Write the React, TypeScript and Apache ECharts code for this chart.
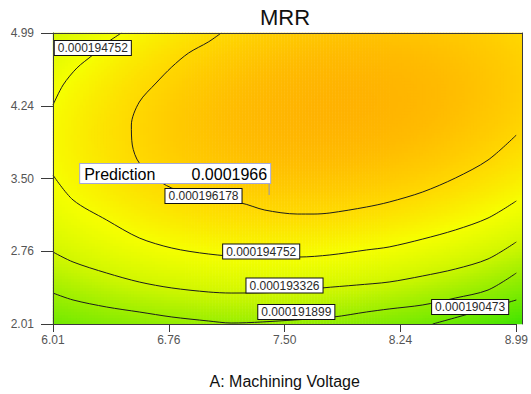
import React, { useEffect, useRef } from "react";
import * as echarts from "echarts";

const FONT = '"Liberation Sans", Arial, Helvetica, sans-serif';

// Axis ranges and tick marks (actual factor units)
const X_RANGE = [6.01, 8.99];
const Y_RANGE = [2.01, 4.99];
const X_TICKS = [6.01, 6.755, 7.5, 8.245, 8.99];
const X_TICK_LABELS = ["6.01", "6.76", "7.50", "8.24", "8.99"];
const Y_TICKS = [2.01, 2.755, 3.5, 4.245, 4.99];
const Y_TICK_LABELS = ["2.01", "2.76", "3.50", "4.24", "4.99"];

// Fitted quadratic response for MRR (x1e-6) in coded factors a, b:
// [b0, a, b, a^2, b^2, ab]
const MRR_MODEL = [196.86, 0.32, 2.48, -1.82, -2.7, 1.05];
const FACTOR_CENTER = [7.5, 3.5];
const FACTOR_HALF_RANGE = 1.49;

// Contour levels and the traced contour paths [A, B]
const LEVEL_190473 = "0.000190473";
const LEVEL_191899 = "0.000191899";
const LEVEL_193326 = "0.000193326";
const LEVEL_194752 = "0.000194752";
const LEVEL_196178 = "0.000196178";

const CONTOUR_196178 = [
  [7.092, 4.99], [7.009, 4.898], [6.882, 4.785], [6.774, 4.642], [6.673, 4.478],
  [6.565, 4.283], [6.514, 4.048], [6.52, 3.843], [6.565, 3.659], [6.712, 3.454],
  [6.838, 3.362], [7.009, 3.28], [7.219, 3.249], [7.372, 3.177], [7.581, 3.136],
  [7.689, 3.136], [7.791, 3.147], [8.026, 3.208], [8.172, 3.259], [8.388, 3.362],
  [8.598, 3.505], [8.808, 3.689], [8.99, 3.945],
];
const CONTOUR_194752_TOP = [
  [6.01, 4.253], [6.075, 4.458], [6.164, 4.632], [6.266, 4.765], [6.355, 4.888], [6.45, 4.99],
];
const CONTOUR_194752 = [
  [6.01, 3.535], [6.139, 3.28], [6.355, 3.075], [6.565, 2.891], [6.774, 2.788],
  [7.009, 2.727], [7.264, 2.696], [7.594, 2.696], [7.791, 2.717], [8.026, 2.768],
  [8.172, 2.799], [8.388, 2.88], [8.598, 2.973], [8.808, 3.095], [8.99, 3.27],
];
const CONTOUR_193326 = [
  [6.01, 2.747], [6.139, 2.645], [6.355, 2.532], [6.565, 2.44], [6.774, 2.379],
  [7.009, 2.338], [7.156, 2.327], [7.499, 2.338], [7.74, 2.379], [7.963, 2.409],
  [8.172, 2.44], [8.388, 2.502], [8.598, 2.573], [8.808, 2.676], [8.99, 2.85],
];
const CONTOUR_191899 = [
  [6.01, 2.327], [6.139, 2.256], [6.355, 2.184], [6.565, 2.133], [6.774, 2.082],
  [7.009, 2.041], [7.156, 2.02], [7.562, 2.051], [7.816, 2.082], [8.026, 2.133],
  [8.172, 2.164], [8.388, 2.205], [8.598, 2.276], [8.808, 2.358], [8.99, 2.532],
];
const CONTOUR_190473 = [
  [8.452, 2.01], [8.706, 2.123], [8.99, 2.256],
];

// Where each contour value is written on its line
const CONTOUR_LABELS = [
  { level: LEVEL_194752, at: [6.266, 4.837] },
  { level: LEVEL_196178, at: [6.978, 3.321] },
  { level: LEVEL_194752, at: [7.349, 2.752] },
  { level: LEVEL_193326, at: [7.499, 2.404] },
  { level: LEVEL_191899, at: [7.575, 2.133] },
  { level: LEVEL_190473, at: [8.693, 2.184] },
];

// Point prediction flag
const PREDICTION_POINT = [7.4, 3.33];
const PREDICTION_LABEL_ANCHOR = [7.41, 3.551];
const PREDICTION_VALUE = "0.0001966";

// Colour ramp for the response surface (x1e-6 -> colour)
const COLOR_STOPS: [number, string][] = [
  [189.0, "#3ce400"],
  [191.9, "#9cee00"],
  [193.33, "#d2f700"],
  [194.75, "#f6ff00"],
  [196.18, "#ffd800"],
  [197.6, "#ffb000"],
];

const NX = 156;
const NY = 97;

function mrrAt(x: number, y: number): number {
  const a = (x - FACTOR_CENTER[0]) / FACTOR_HALF_RANGE;
  const b = (y - FACTOR_CENTER[1]) / FACTOR_HALF_RANGE;
  const [b0, b1, b2, b11, b22, b12] = MRR_MODEL;
  return b0 + b1 * a + b2 * b + b11 * a * a + b22 * b * b + b12 * a * b;
}

function hexToRgb(h: string): number[] {
  return [1, 3, 5].map((k) => parseInt(h.slice(k, k + 2), 16));
}

// Even-spaced colour list for a continuous visualMap from uneven stops
function rampColors(n: number): string[] {
  const lo = COLOR_STOPS[0][0];
  const hi = COLOR_STOPS[COLOR_STOPS.length - 1][0];
  const out: string[] = [];
  for (let k = 0; k < n; k++) {
    const v = lo + ((hi - lo) * k) / (n - 1);
    let s = 0;
    while (s < COLOR_STOPS.length - 2 && v > COLOR_STOPS[s + 1][0]) s++;
    const [v0, c0] = COLOR_STOPS[s];
    const [v1, c1] = COLOR_STOPS[s + 1];
    const t = Math.min(1, Math.max(0, (v - v0) / (v1 - v0)));
    const a = hexToRgb(c0);
    const b = hexToRgb(c1);
    const rgb = a.map((ch, i) => Math.round(ch + (b[i] - ch) * t));
    out.push(`rgb(${rgb[0]},${rgb[1]},${rgb[2]})`);
  }
  return out;
}

function tickLabel(ticks: number[], labels: string[]) {
  return (v: number) => {
    const i = ticks.findIndex((t) => Math.abs(t - v) < 1e-6);
    return i >= 0 ? labels[i] : "";
  };
}

export default function App() {
  const ref = useRef<HTMLDivElement>(null);

  useEffect(() => {
    if (!ref.current) return;
    const chart = echarts.init(ref.current, undefined, { renderer: "svg" });

    const xCats: string[] = [];
    const yCats: string[] = [];
    for (let i = 0; i < NX; i++) xCats.push(String(i));
    for (let j = 0; j < NY; j++) yCats.push(String(j));
    const surface: number[][] = [];
    for (let i = 0; i < NX; i++) {
      const x = X_RANGE[0] + ((i + 0.5) * (X_RANGE[1] - X_RANGE[0])) / NX;
      for (let j = 0; j < NY; j++) {
        const y = Y_RANGE[0] + ((j + 0.5) * (Y_RANGE[1] - Y_RANGE[0])) / NY;
        surface.push([i, j, mrrAt(x, y)]);
      }
    }

    const axisColor = "#3a3a3a";
    const contour = (data: number[][]) => ({
      type: "line",
      xAxisIndex: 1,
      yAxisIndex: 1,
      data,
      smooth: 0.3,
      symbol: "none",
      silent: true,
      lineStyle: { color: "#1c1c1c", width: 1 },
      z: 3,
    });

    chart.setOption({
      animation: false,
      backgroundColor: "#ffffff",
      title: {
        text: "MRR",
        left: 285,
        top: 6,
        padding: 0,
        textAlign: "center",
        textStyle: { fontSize: 22, fontWeight: "normal", color: "#111", fontFamily: FONT },
      },
      grid: [
        { left: 53, top: 33, width: 469, height: 291 },
        { left: 53, top: 33, width: 469, height: 291 },
      ],
      visualMap: {
        show: false,
        seriesIndex: 0,
        dimension: 2,
        min: COLOR_STOPS[0][0],
        max: COLOR_STOPS[COLOR_STOPS.length - 1][0],
        inRange: { color: rampColors(44) },
      },
      xAxis: [
        {
          gridIndex: 0,
          type: "category",
          data: xCats,
          position: "top",
          axisLine: { show: true, lineStyle: { color: axisColor } },
          axisTick: { show: false },
          axisLabel: { show: false },
          splitLine: { show: false },
          z: 10,
        },
        {
          gridIndex: 1,
          type: "value",
          min: X_RANGE[0],
          max: X_RANGE[1],
          position: "bottom",
          axisLine: { show: true, lineStyle: { color: axisColor } },
          axisTick: { show: true, customValues: X_TICKS, length: 8, lineStyle: { color: axisColor } },
          axisLabel: {
            customValues: X_TICKS,
            formatter: tickLabel(X_TICKS, X_TICK_LABELS),
            margin: 10,
            color: "#555",
            fontSize: 12,
            fontFamily: FONT,
          },
          splitLine: { show: false },
          name: "A: Machining Voltage",
          nameLocation: "middle",
          nameGap: 49,
          nameTextStyle: { fontSize: 16, color: "#111", fontFamily: FONT },
          z: 10,
        },
      ],
      yAxis: [
        {
          gridIndex: 0,
          type: "category",
          data: yCats,
          position: "right",
          axisLine: { show: true, lineStyle: { color: axisColor } },
          axisTick: { show: false },
          axisLabel: { show: false },
          splitLine: { show: false },
          z: 10,
        },
        {
          gridIndex: 1,
          type: "value",
          min: Y_RANGE[0],
          max: Y_RANGE[1],
          position: "left",
          axisLine: { show: true, lineStyle: { color: axisColor } },
          axisTick: { show: true, customValues: Y_TICKS, length: 12, lineStyle: { color: axisColor } },
          axisLabel: {
            customValues: Y_TICKS,
            formatter: tickLabel(Y_TICKS, Y_TICK_LABELS),
            margin: 19,
            color: "#555",
            fontSize: 12,
            fontFamily: FONT,
          },
          splitLine: { show: false },
          z: 10,
        },
      ],
      series: [
        {
          type: "heatmap",
          xAxisIndex: 0,
          yAxisIndex: 0,
          data: surface,
          progressive: 0,
          silent: true,
          emphasis: { disabled: true },
          z: 1,
        },
        contour(CONTOUR_196178),
        contour(CONTOUR_194752_TOP),
        contour(CONTOUR_194752),
        contour(CONTOUR_193326),
        contour(CONTOUR_191899),
        contour(CONTOUR_190473),
        {
          type: "scatter",
          xAxisIndex: 1,
          yAxisIndex: 1,
          silent: true,
          symbolSize: 1,
          itemStyle: { color: "rgba(0,0,0,0)", opacity: 1 },
          data: CONTOUR_LABELS.map((c) => ({ value: c.at, name: c.level })),
          label: {
            show: true,
            position: "inside",
            formatter: "{b}",
            fontSize: 12,
            lineHeight: 13,
            color: "#2a2a2a",
            fontFamily: FONT,
            backgroundColor: "#ffffff",
            borderColor: "#111",
            borderWidth: 1,
            padding: [1, 3, 0, 3],
          },
          z: 5,
        },
        {
          type: "scatter",
          xAxisIndex: 1,
          yAxisIndex: 1,
          silent: true,
          symbol: "rect",
          symbolSize: [1, 12],
          symbolOffset: [0, -6],
          itemStyle: { color: "#8c90c4", opacity: 1 },
          data: [PREDICTION_POINT],
          z: 6,
        },
        {
          type: "scatter",
          xAxisIndex: 1,
          yAxisIndex: 1,
          silent: true,
          symbolSize: 1,
          itemStyle: { color: "rgba(0,0,0,0)", opacity: 1 },
          data: [{ value: PREDICTION_LABEL_ANCHOR, name: PREDICTION_VALUE }],
          label: {
            show: true,
            position: "left",
            distance: 0,
            formatter: (p: any) => `{a|Prediction}{b|${p.name}}`,
            backgroundColor: "#ffffff",
            borderColor: "#a4a8da",
            borderWidth: 1,
            padding: [1, 3, 0, 4],
            rich: {
              a: { fontSize: 16, lineHeight: 18, width: 108, align: "left", color: "#000", fontFamily: FONT },
              b: { fontSize: 16, lineHeight: 18, width: 75, align: "right", color: "#000", fontFamily: FONT },
            },
          },
          z: 7,
        },
      ],
    });

    return () => chart.dispose();
  }, []);

  return (
    <div
      ref={ref}
      style={{ position: "fixed", left: 0, top: 0, width: 531, height: 394, background: "#fff" }}
    />
  );
}
